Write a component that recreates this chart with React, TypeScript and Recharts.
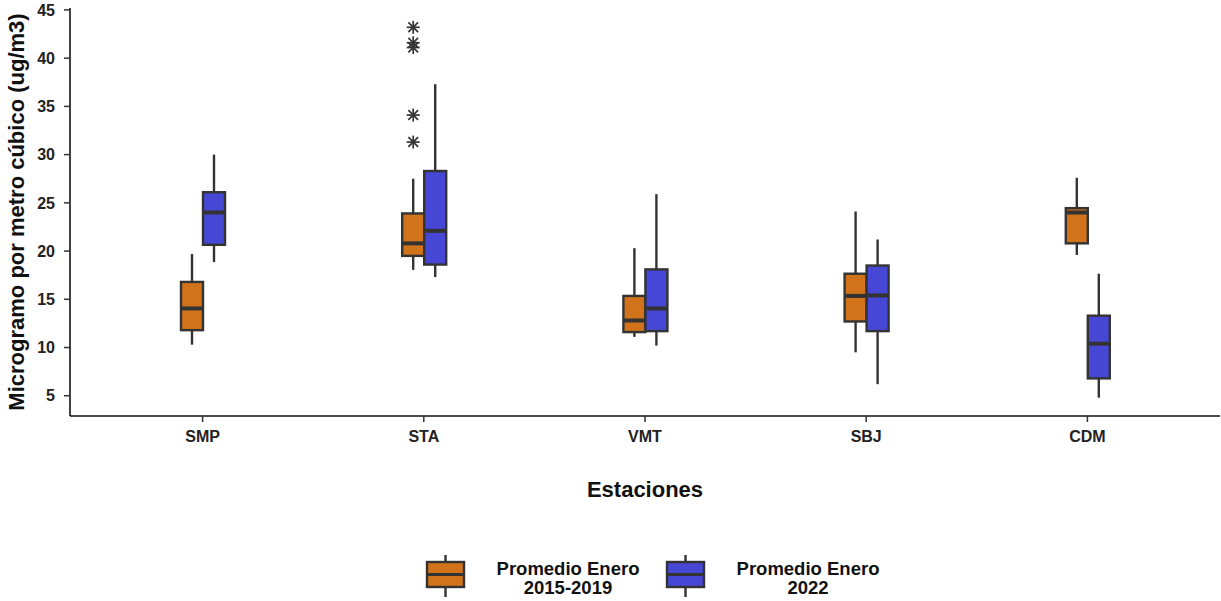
import React from 'react';
import { ComposedChart, Bar, XAxis, YAxis, Legend } from 'recharts';

const STATIONS = ['SMP', 'STA', 'VMT', 'SBJ', 'CDM'];
const SERIES_NAMES = ['Promedio Enero\n2015-2019', 'Promedio Enero\n2022'];

// Promedio Enero 2015-2019
const P1519_MIN = [10.3, 18.05, 11.1, 9.5, 19.6];
const P1519_Q1 = [11.8, 19.5, 11.6, 12.7, 20.8];
const P1519_MED = [14.05, 20.8, 12.8, 15.35, 24.0];
const P1519_Q3 = [16.8, 23.9, 15.35, 17.65, 24.45];
const P1519_MAX = [19.7, 27.5, 20.3, 24.1, 27.6];
const P1519_OUT = [[], [43.2, 41.6, 41.1, 34.1, 31.3], [], [], []];

// Promedio Enero 2022
const P22_MIN = [18.85, 17.3, 10.2, 6.2, 4.8];
const P22_Q1 = [20.65, 18.6, 11.7, 11.7, 6.8];
const P22_MED = [24.0, 22.1, 14.05, 15.4, 10.4];
const P22_Q3 = [26.1, 28.3, 18.1, 18.5, 13.3];
const P22_MAX = [30.0, 37.3, 25.9, 21.2, 17.65];
const P22_OUT = [[], [], [], [], []];

const Y_TICKS = [5, 10, 15, 20, 25, 30, 35, 40, 45];

const ORANGE = '#D1731A';
const BLUE = '#4747D6';
const INK = '#333333';
const FONT = '"Liberation Sans", Arial, sans-serif';

const data = STATIONS.map((station, i) => ({
  station,
  p1519: { min: P1519_MIN[i], q1: P1519_Q1[i], med: P1519_MED[i], q3: P1519_Q3[i], max: P1519_MAX[i], out: P1519_OUT[i] },
  p22: { min: P22_MIN[i], q1: P22_Q1[i], med: P22_MED[i], q3: P22_Q3[i], max: P22_MAX[i], out: P22_OUT[i] },
}));

function Asterisk({ cx, cy }: { cx: number; cy: number }) {
  const r = 6.5;
  const d = r * 0.75;
  return (
    <g stroke={INK} strokeWidth={1.7}>
      <line x1={cx - r} x2={cx + r} y1={cy} y2={cy} />
      <line x1={cx} x2={cx} y1={cy - r} y2={cy + r} />
      <line x1={cx - d} x2={cx + d} y1={cy - d} y2={cy + d} />
      <line x1={cx - d} x2={cx + d} y1={cy + d} y2={cy - d} />
    </g>
  );
}

// box is the [q1, q3] range bar; the other stats use the same y scale
function boxShape(key: 'p1519' | 'p22') {
  return (props: any) => {
    const { x, y, width, height, payload, fill } = props;
    const s = payload[key];
    const top = Math.min(y, y + height);
    const h = Math.abs(height);
    const k = h / (s.q3 - s.q1);
    const py = (v: number) => top + (s.q3 - v) * k;
    const cx = x + width / 2;
    return (
      <g>
        <line x1={cx} x2={cx} y1={py(s.max)} y2={top} stroke={INK} strokeWidth={2.4} />
        <line x1={cx} x2={cx} y1={top + h} y2={py(s.min)} stroke={INK} strokeWidth={2.4} />
        <rect x={x} y={top} width={width} height={h} fill={fill} stroke={INK} strokeWidth={2.4} />
        <line x1={x} x2={x + width} y1={py(s.med)} y2={py(s.med)} stroke={INK} strokeWidth={4} />
        {s.out.map((v: number, j: number) => (
          <Asterisk key={j} cx={cx} cy={py(v)} />
        ))}
      </g>
    );
  };
}

const LEGEND_ICON_X = [427, 667];
const LEGEND_TEXT_X = [568, 808];

const renderLegend = (props: any) => {
  const { payload } = props;
  return (
    <svg width={1220} height={56} style={{ display: 'block' }}>
      {(payload || []).map((item: any, i: number) => {
        const x0 = LEGEND_ICON_X[i];
        const cx = x0 + 18.5;
        const lines = String(item.value).split('\n');
        return (
          <g key={i}>
            <line x1={cx} x2={cx} y1={10} y2={52} stroke={INK} strokeWidth={2.4} />
            <rect x={x0} y={17} width={37} height={25} fill={item.color} stroke={INK} strokeWidth={2.4} />
            <line x1={x0} x2={x0 + 37} y1={29.5} y2={29.5} stroke={INK} strokeWidth={3} />
            {lines.map((t, j) => (
              <text
                key={j}
                x={LEGEND_TEXT_X[i]}
                y={29.5 + j * 19.5}
                textAnchor="middle"
                fontFamily={FONT}
                fontWeight="bold"
                fontSize={18.5}
                fill="#111"
              >
                {t}
              </text>
            ))}
          </g>
        );
      })}
    </svg>
  );
};

export default function App() {
  const tickStyle = { fontFamily: FONT, fontWeight: 'bold', fontSize: 16, fill: '#222' };
  return (
    <div style={{ position: 'absolute', left: 0, top: 0, background: '#fff' }}>
      <ComposedChart
        width={1221}
        height={601}
        data={data}
        margin={{ top: 8, right: 1, bottom: 0, left: 0 }}
        barGap={0}
      >
        <XAxis
          dataKey="station"
          padding={{ left: 22, right: 22 }}
          height={129}
          tick={tickStyle}
          tickSize={6}
          tickMargin={9}
          tickLine={{ stroke: INK, strokeWidth: 1.5 }}
          axisLine={{ stroke: '#111', strokeWidth: 1.6 }}
          label={{
            content: (p: any) => {
              const vb = p.viewBox;
              return (
                <text x={vb.x + vb.width / 2} y={vb.y + 81} textAnchor="middle" fontFamily={FONT} fontWeight="bold" fontSize={22} fill="#111">
                  Estaciones
                </text>
              );
            },
          }}
        />
        <YAxis
          type="number"
          domain={[2.9, 45.2]}
          ticks={Y_TICKS}
          allowDataOverflow
          width={70}
          tick={tickStyle}
          tickSize={6}
          tickMargin={9}
          tickLine={{ stroke: INK, strokeWidth: 1.5 }}
          axisLine={{ stroke: '#111', strokeWidth: 1.6 }}
          label={{
            content: (p: any) => {
              const vb = p.viewBox;
              const cx = vb.x + 16;
              const cy = vb.y + vb.height / 2;
              return (
                <text
                  x={cx}
                  y={cy}
                  transform={`rotate(-90 ${cx} ${cy})`}
                  textAnchor="middle"
                  dominantBaseline="central"
                  fontFamily={FONT}
                  fontWeight="bold"
                  fontSize={22}
                  fill="#111"
                >
                  Microgramo por metro cúbico (ug/m3)
                </text>
              );
            },
          }}
        />
        <Legend verticalAlign="bottom" content={renderLegend} />
        <Bar
          name={SERIES_NAMES[0]}
          dataKey={(d: any) => [d.p1519.q1, d.p1519.q3]}
          fill={ORANGE}
          barSize={22}
          shape={boxShape('p1519')}
          isAnimationActive={false}
        />
        <Bar
          name={SERIES_NAMES[1]}
          dataKey={(d: any) => [d.p22.q1, d.p22.q3]}
          fill={BLUE}
          barSize={22}
          shape={boxShape('p22')}
          isAnimationActive={false}
        />
      </ComposedChart>
    </div>
  );
}
